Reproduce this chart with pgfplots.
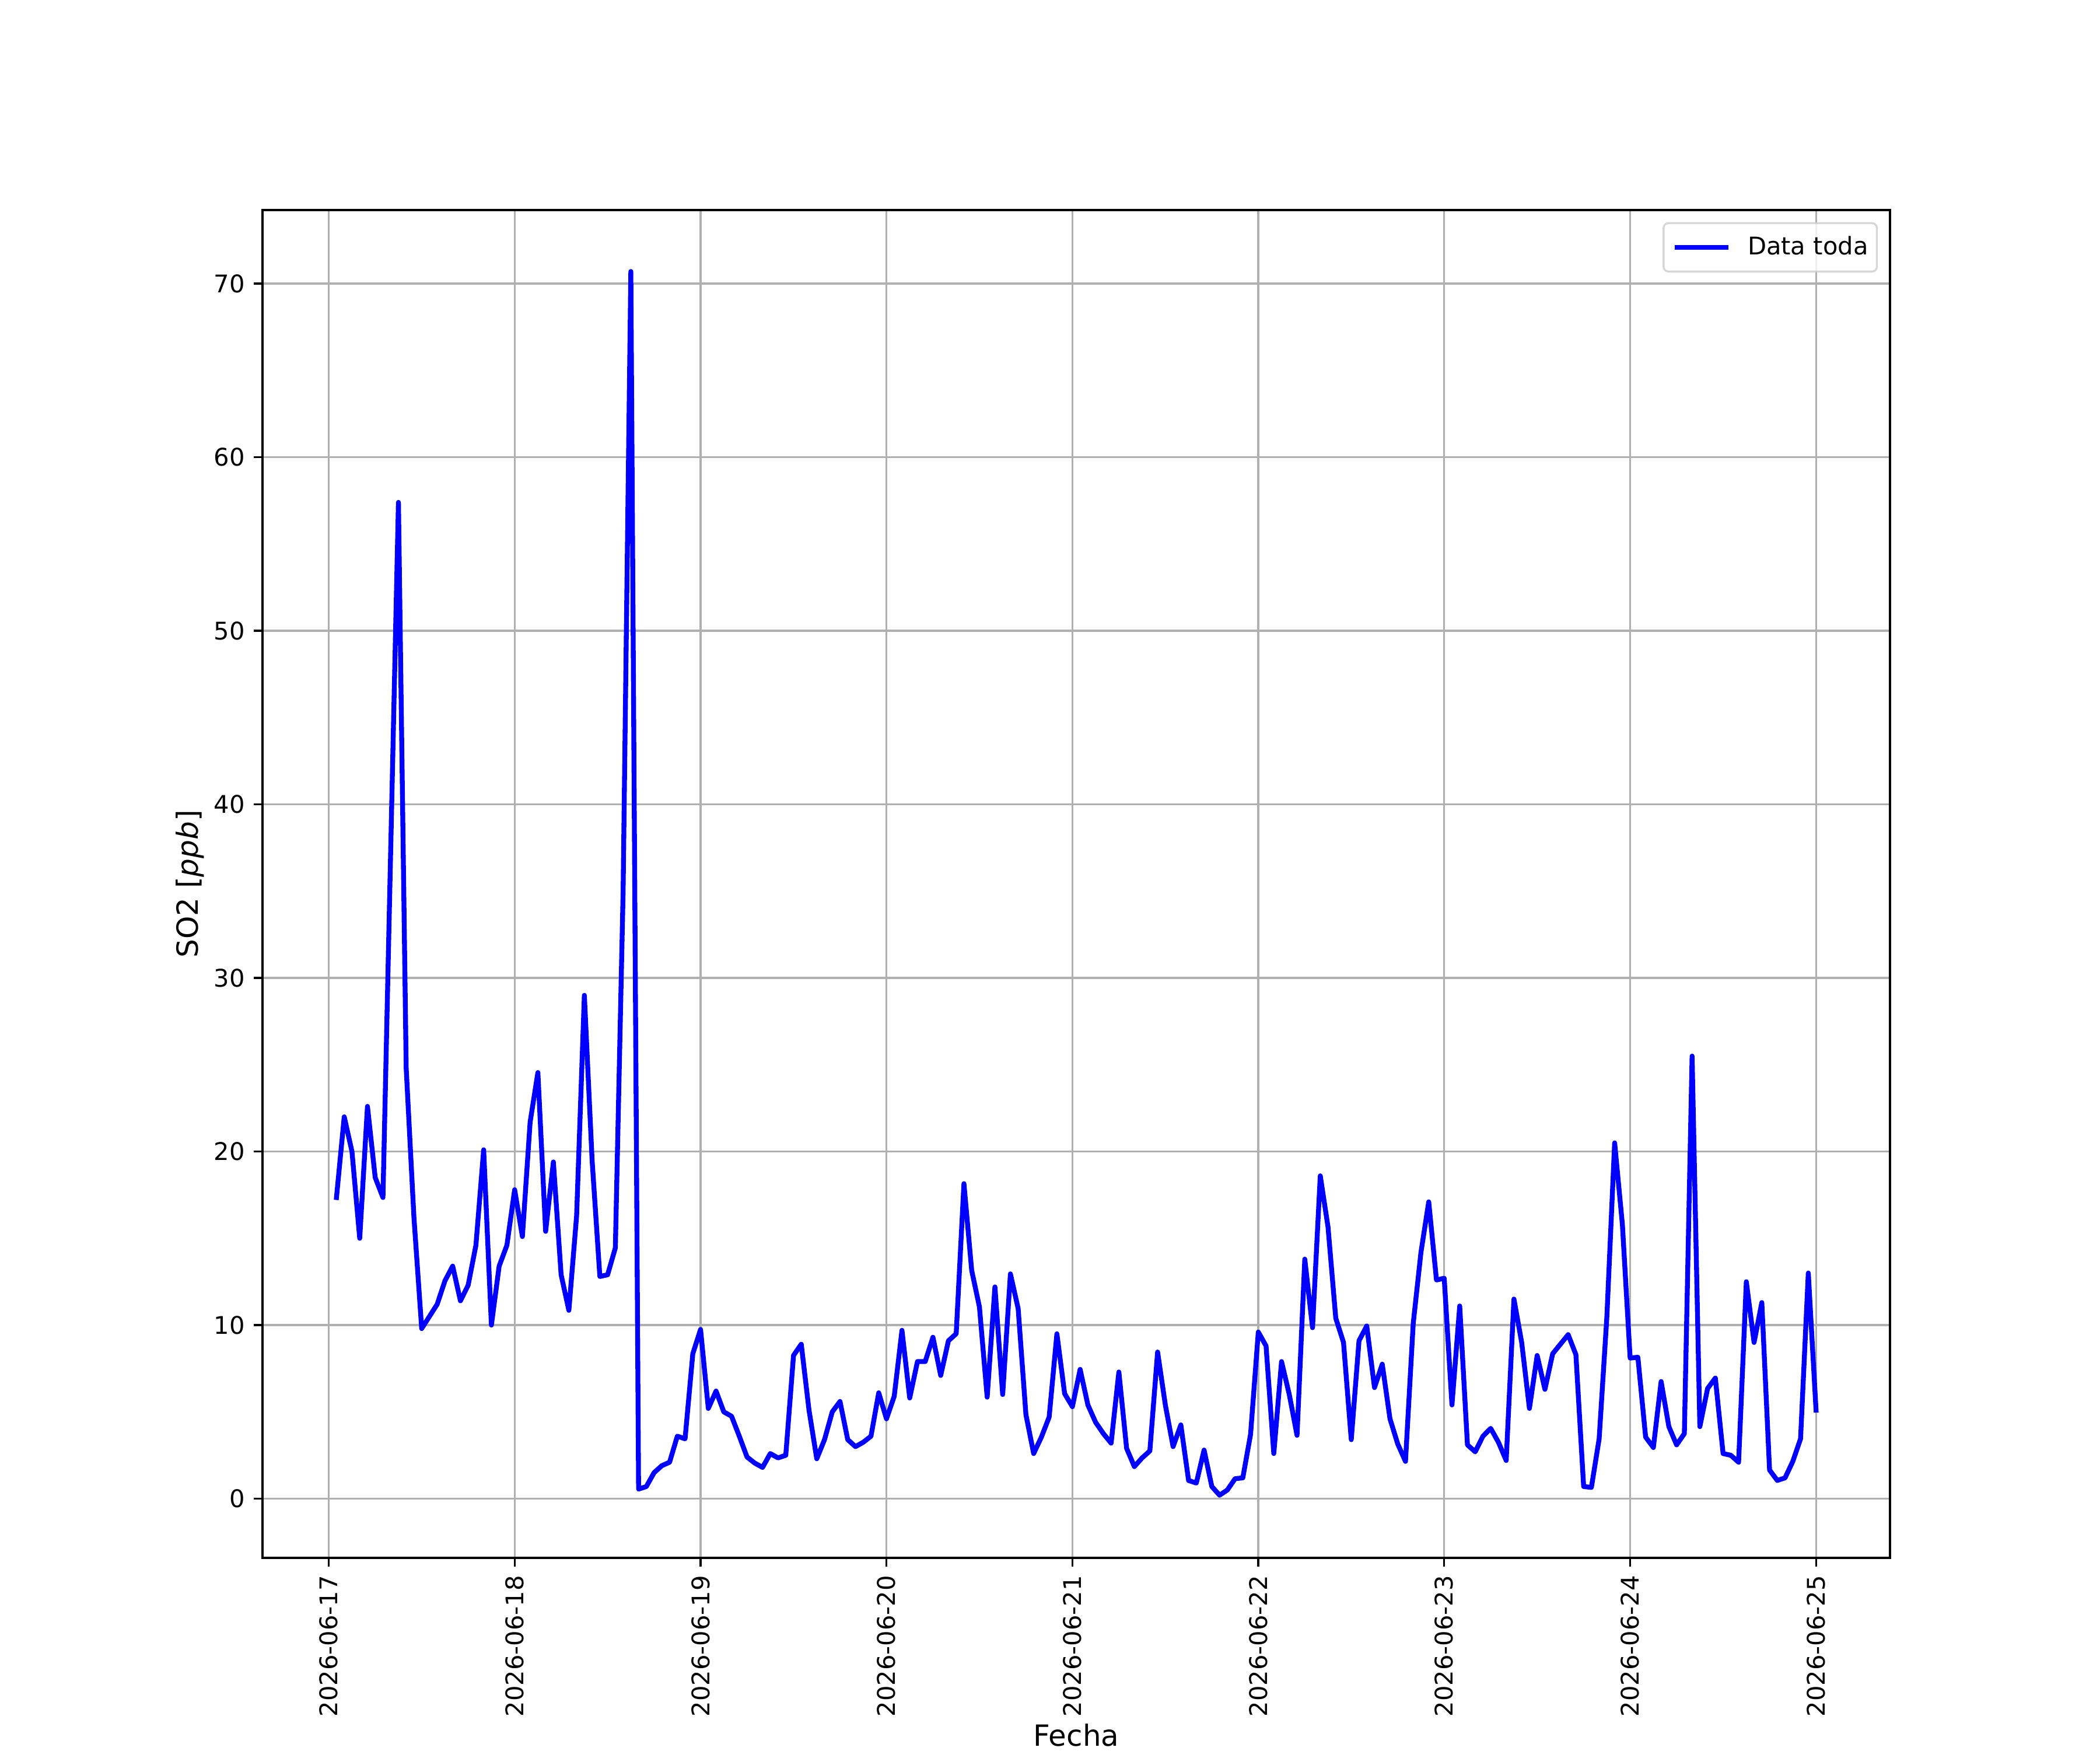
\documentclass[border=0pt]{standalone}
\usepackage{fontspec}
\setmainfont{DejaVu Sans}
\usepackage{pgfplots}
\pgfplotsset{compat=1.18}
\definecolor{gridgray}{HTML}{B0B0B0}
\definecolor{legedge}{HTML}{CCCCCC}
\begin{document}
\fontsize{10}{12}\selectfont
\begin{tikzpicture}
\path[use as bounding box] (0,0) rectangle (864pt,720pt);
\begin{axis}[
  at={(108pt,79.2pt)}, anchor=south west,
  width=669.6pt, height=554.4pt, scale only axis,
  xmin=-8.55, xmax=201.55, ymin=-3.41, ymax=74.24,
  xtick={0,24,48,72,96,120,144,168,192},
  xticklabels={2026-06-17,2026-06-18,2026-06-19,2026-06-20,2026-06-21,2026-06-22,2026-06-23,2026-06-24,2026-06-25},
  ytick={0,10,20,30,40,50,60,70},
  grid=major,
  major grid style={color=gridgray, line width=0.8pt},
  axis line style={line width=0.8pt, black},
  every tick/.style={line width=0.8pt, black},
  major tick length=3.5pt,
  tick align=outside,
  tick pos=left,
  minor tick num=0,
  ticklabel style={font=\fontsize{10}{12}\selectfont},
  xticklabel style={rotate=90, anchor=east, inner sep=3.5pt},
  yticklabel style={anchor=east, inner sep=3.5pt},
  /pgf/number format/assume math mode=true,
  xlabel={Fecha},
  ylabel={SO2 [\textit{ppb}]},
  label style={font=\fontsize{12}{14}\selectfont},
  xlabel style={at={(axis description cs:0.5,-0.1394)}, anchor=base, inner sep=0pt},
  ylabel style={at={(axis description cs:-0.03943,0.5)}, anchor=base, inner sep=0pt},
  legend style={at={(rel axis cs:1,1)}, anchor=north east, xshift=-5pt, yshift=-5pt,
    draw=legedge, line width=0.8pt, rounded corners=2pt, fill=white, fill opacity=0.8,
    draw opacity=0.8, text opacity=1, inner xsep=3.6pt, inner ysep=5.4pt,
    nodes={inner sep=0pt, text opacity=1}, font=\fontsize{10}{12}\selectfont,
    /tikz/every odd column/.append style={column sep=7pt}},
  legend image code/.code={\draw[#1, line cap=butt, draw opacity=1] (0pt,0pt) -- (22pt,0pt);},
]
\addplot[color=blue, line width=2pt, line join=round, line cap=rect] table {
x y
1 17.35
2 22.0
3 20.0
4 15.0
5 22.6
6 18.5
7 17.35
8 37.4
9 57.4
10 24.8
11 16.2
12 9.8
13 10.5
14 11.2
15 12.55
16 13.4
17 11.4
18 12.3
19 14.6
20 20.1
21 10.0
22 13.4
23 14.6
24 17.8
25 15.1
26 21.7
27 24.55
28 15.4
29 19.4
30 12.9
31 10.85
32 16.3
33 29.0
34 19.5
35 12.8
36 12.9
37 14.45
38 34.9
39 70.7
40 0.55
41 0.7
42 1.5
43 1.9
44 2.1
45 3.6
46 3.45
47 8.35
48 9.75
49 5.2
50 6.2
51 5.0
52 4.75
53 3.6
54 2.4
55 2.05
56 1.8
57 2.6
58 2.35
59 2.5
60 8.25
61 8.9
62 5.1
63 2.3
64 3.4
65 5.0
66 5.6
67 3.4
68 3.0
69 3.25
70 3.6
71 6.1
72 4.6
73 5.9
74 9.7
75 5.8
76 7.9
77 7.9
78 9.3
79 7.1
80 9.1
81 9.5
82 18.15
83 13.15
84 11.05
85 5.85
86 12.2
87 6.0
88 12.95
89 10.95
90 4.85
91 2.6
92 3.55
93 4.7
94 9.5
95 6.05
96 5.3
97 7.45
98 5.4
99 4.4
100 3.75
101 3.2
102 7.3
103 2.9
104 1.85
105 2.35
106 2.75
107 8.45
108 5.4
109 3.0
110 4.25
111 1.05
112 0.9
113 2.8
114 0.7
115 0.2
116 0.5
117 1.15
118 1.2
119 3.7
120 9.6
121 8.8
122 2.6
123 7.9
124 6.0
125 3.65
126 13.8
127 9.85
128 18.6
129 15.65
130 10.4
131 9.0
132 3.4
133 9.1
134 9.95
135 6.4
136 7.75
137 4.6
138 3.15
139 2.15
140 10.1
141 14.2
142 17.1
143 12.6
144 12.7
145 5.4
146 11.1
147 3.1
148 2.7
149 3.6
150 4.05
151 3.25
152 2.2
153 11.5
154 9.0
155 5.2
156 8.25
157 6.3
158 8.35
159 8.9
160 9.45
161 8.3
162 0.7
163 0.65
164 3.45
165 10.5
166 20.5
167 15.8
168 8.1
169 8.15
170 3.55
171 2.95
172 6.75
173 4.15
174 3.1
175 3.75
176 25.5
177 4.15
178 6.35
179 6.95
180 2.6
181 2.5
182 2.1
183 12.5
184 9.0
185 11.3
186 1.65
187 1.05
188 1.2
189 2.15
190 3.45
191 13.0
192 5.1
};
\addlegendentry{Data toda}
\end{axis}
\end{tikzpicture}
\end{document}
